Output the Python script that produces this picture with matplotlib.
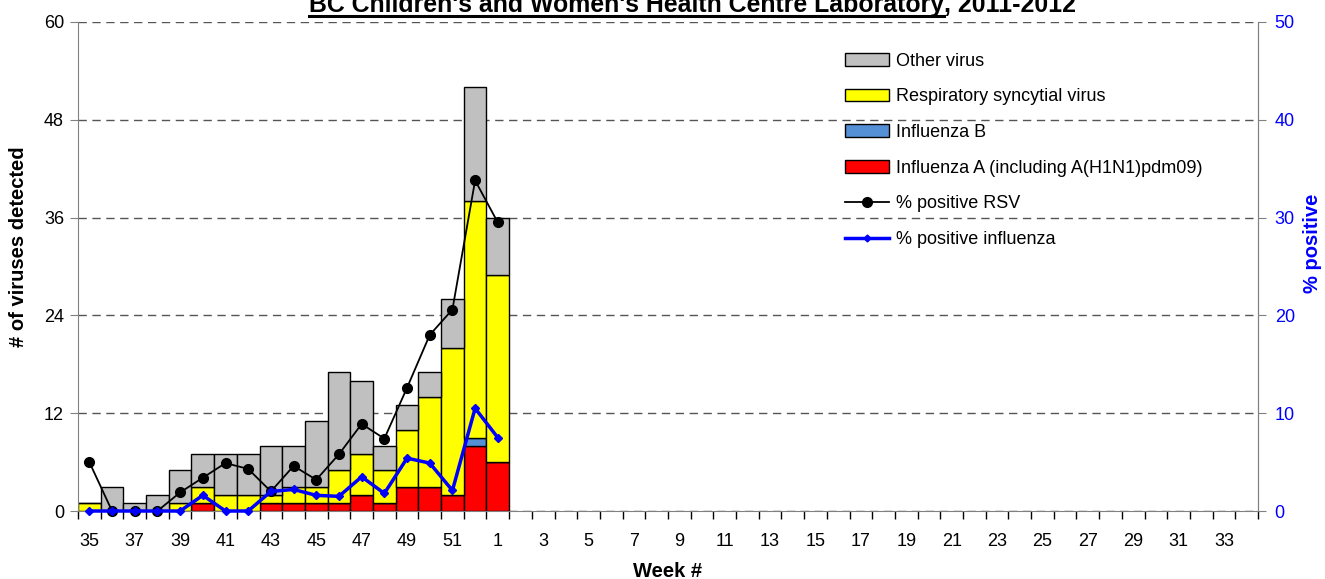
import matplotlib.pyplot as plt
from matplotlib.lines import Line2D
import numpy as np

# surveillance weeks 35..52 of 2011, then 1..34 of 2012
weeks = list(range(35, 53)) + list(range(1, 35))

# counts per week (only weeks 35 .. 1 reported)
flu_a = [0, 0, 0, 0, 0, 1, 0, 0, 1, 1, 1, 1, 2, 1, 3, 3, 2, 8, 6]
flu_b = [0, 0, 0, 0, 0, 0, 0, 0, 0, 0, 0, 0, 0, 0, 0, 0, 0, 1, 0]
rsv   = [1, 0, 0, 0, 1, 2, 2, 2, 1, 2, 2, 4, 5, 4, 7, 11, 18, 29, 23]
other = [0, 3, 1, 2, 4, 4, 5, 5, 6, 5, 8, 12, 9, 3, 3, 3, 6, 14, 7]

# percent positive
pct_rsv = [5.0, 0, 0, 0, 1.9, 3.4, 4.9, 4.3, 2.0, 4.6, 3.2, 5.8, 8.9, 7.4, 12.6, 18.0, 20.6, 33.8, 29.5]
pct_flu = [0, 0, 0, 0, 0, 1.6, 0, 0, 2.0, 2.2, 1.6, 1.5, 3.5, 1.8, 5.4, 4.9, 2.1, 10.5, 7.5]

plt.rcParams['font.family'] = 'Liberation Sans'

W, H = 1325, 579
fig = plt.figure(figsize=(W / 100, H / 100), dpi=100)
ax = fig.add_axes([78 / W, 68 / H, 1180 / W, 489 / H])

x = np.arange(len(flu_a))
a = np.array(flu_a)
b = np.array(flu_b)
r = np.array(rsv)
o = np.array(other)

bar_kw = dict(width=1.0, edgecolor='black', linewidth=1.0)
ax.bar(x, a, color='#FF0000', **bar_kw)
ax.bar(x, b, bottom=a, color='#5590D6', **bar_kw)
ax.bar(x, r, bottom=a + b, color='#FFFF00', **bar_kw)
ax.bar(x, o, bottom=a + b + r, color='#C0C0C0', **bar_kw)

ax.set_xlim(-0.5, len(weeks) - 0.5)
ax.set_ylim(0, 60)
ax.set_yticks(range(0, 61, 12))
ax.set_axisbelow(True)
ax.yaxis.grid(True, linestyle=(0, (6, 4)), color='#555555', linewidth=1)

ax.set_xticks(np.arange(0, len(weeks), 2))
ax.set_xticklabels([str(w) for w in weeks[::2]])
ax.set_xticks(np.arange(-0.5, len(weeks), 1), minor=True)
ax.tick_params(axis='x', which='major', length=0, pad=16, labelsize=13)
ax.tick_params(axis='x', which='minor', length=6, color='black', width=1)
ax.tick_params(axis='y', length=6, color='#808080', labelsize=13, pad=4)

for s in ['left', 'bottom', 'right']:
    ax.spines[s].set_color('#808080')
ax.spines['top'].set_visible(False)

ax.set_xlabel('Week #', fontsize=14.5, fontweight='bold')
ax.set_ylabel('# of viruses detected', fontsize=14.5, fontweight='bold')
ax.xaxis.set_label_coords(0.5, -0.104)
ax.yaxis.set_label_coords(-0.042, 0.54)

ax2 = ax.twinx()
ax2.set_ylim(0, 50)
ax2.set_yticks(range(0, 51, 10))
ax2.tick_params(axis='y', length=6, color='#808080', labelcolor='#0000FF', labelsize=13, pad=6)
for s in ['left', 'bottom', 'top']:
    ax2.spines[s].set_visible(False)
ax2.spines['right'].set_color('#808080')
ax2.set_ylabel('% positive', fontsize=14.5, fontweight='bold', color='#0000FF')
ax2.yaxis.set_label_coords(1.038, 0.548)

ax2.plot(x, pct_rsv, color='black', linewidth=1.3, marker='o', markersize=7, clip_on=False)
ax2.plot(x, pct_flu, color='#0000FF', linewidth=2.5, marker='D', markersize=4.5, clip_on=False)

labels = ['Other virus', 'Respiratory syncytial virus', 'Influenza B',
          'Influenza A (including A(H1N1)pdm09)', '% positive RSV', '% positive influenza']
leg_handles = [
    plt.Rectangle((0, 0), 1, 1, facecolor='#C0C0C0', edgecolor='black'),
    plt.Rectangle((0, 0), 1, 1, facecolor='#FFFF00', edgecolor='black'),
    plt.Rectangle((0, 0), 1, 1, facecolor='#5590D6', edgecolor='black'),
    plt.Rectangle((0, 0), 1, 1, facecolor='#FF0000', edgecolor='black'),
    Line2D([], [], color='black', linewidth=1.3, marker='o', markersize=7),
    Line2D([], [], color='#0000FF', linewidth=2.5, marker='D', markersize=3.5),
]
ax2.legend(leg_handles, labels, loc='upper left', bbox_to_anchor=(845 / W, 1 - 52.5 / H),
           bbox_transform=fig.transFigure, frameon=False, fontsize=13,
           handlelength=2.45, handletextpad=0.4, labelspacing=1.035,
           borderpad=0, borderaxespad=0)

# title, partly underlined and cut at the top edge
ty = 1 - 12 / H
t1 = fig.text(309 / W, ty, "BC Children's and Women's Health Centre Laboratory",
              fontsize=17.9, fontweight='bold', va='baseline')
fig.canvas.draw()
bb = t1.get_window_extent()
fig.text(bb.x1 / W, ty, ", 2011-2012", fontsize=17.9, fontweight='bold', va='baseline')
uy = 1 - 15.5 / H
fig.add_artist(Line2D([bb.x0 / W, bb.x1 / W], [uy, uy], color='black', linewidth=2.2,
                      transform=fig.transFigure))

fig.savefig('out.png', dpi=100)
